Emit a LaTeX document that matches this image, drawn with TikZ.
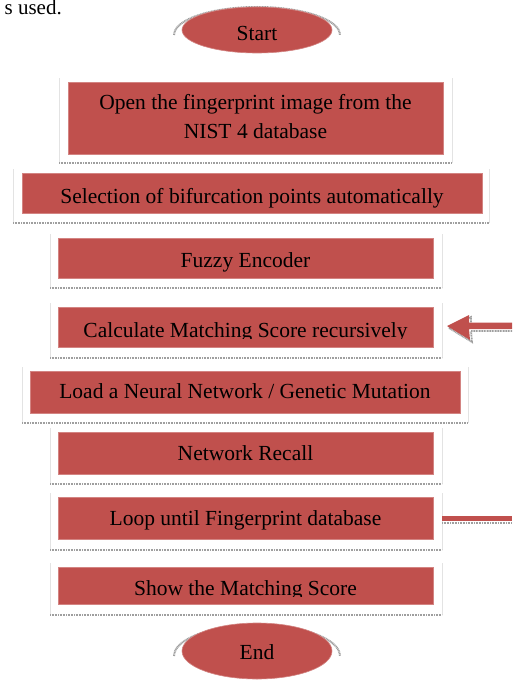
\documentclass[tikz,border=0pt]{standalone}
\usepackage{fontspec}
\setmainfont{Liberation Serif}
\usetikzlibrary{shapes.geometric}
\definecolor{boxred}{HTML}{C0504D}
\tikzset{
  redbox/.style={fill=boxred, draw=boxred!70!white, line width=0.6pt, inner sep=0pt},
  shadowline/.style={draw=gray!75, line width=2.6pt, dash pattern=on 1pt off 0.6pt},
  frameline/.style={draw=gray!22, line width=0.5pt},
  lbl/.style={font=\fontsize{21.5}{29}\selectfont, anchor=base, inner sep=0pt, text=black, align=center},
}
\begin{document}
\begin{tikzpicture}[x=1pt,y=-1pt]
\useasboundingbox (0,0) rectangle (512,687);
\clip (0,0) rectangle (512,687);

% text at top
\node[font=\fontsize{21}{25}\selectfont, anchor=base east, inner sep=0pt] (used) at (62,15) {s used.};

% frames with bottom shadow lines
\foreach \l/\r/\t/\s in {59/452/78/163, 13/489/169/223, 50/442/234/288, 50/442/303/358, 22/468/367/423, 50/442/428/484, 50/442/493/550, 50/442/563/615}{
  \draw[frameline] (\l,\t) -- (\l,\s) (\r,\t) -- (\r,\s);
  \draw[shadowline] (\l,\s) -- (\r,\s);
}

% Start ellipse
\fill[white] (257,35) ellipse [x radius=83, y radius=28];
\draw[shadowline, line width=2pt] (174,35) arc[start angle=180, end angle=360, x radius=83, y radius=28];
\node[redbox, ellipse, minimum width=150, minimum height=46] (start) at (257,30) {};
\node[lbl] (starttxt) at (257,41) {Start};

% End ellipse
\fill[white] (257,656) ellipse [x radius=83, y radius=31];
\draw[shadowline, line width=2pt] (174,656) arc[start angle=180, end angle=360, x radius=83, y radius=31];
\node[redbox, ellipse, minimum width=150, minimum height=56] (end) at (257,651) {};
\node[lbl] (endtxt) at (257,659) {End};

% boxes
\node[redbox, rectangle, minimum width=375, minimum height=72] (b1) at (255.5,118) {};
\node[lbl] (t1) at (255.5,139) {Open the fingerprint image from the\\NIST 4 database};

\node[redbox, rectangle, minimum width=460, minimum height=40] (b2) at (252,193) {};
\node[lbl] (t2) at (252,203) {Selection of bifurcation points automatically};

\node[redbox, rectangle, minimum width=375, minimum height=40] (b3) at (245.5,258) {};
\node[lbl] (t3) at (245.5,267) {Fuzzy Encoder};

\node[redbox, rectangle, minimum width=375, minimum height=40] (b4) at (245.5,327) {};
\begin{scope}
  \clip (58,300) rectangle (433,338);
  \node[lbl] (t4) at (245.5,337) {Calculate Matching Score recursively};
\end{scope}

\node[redbox, rectangle, minimum width=430, minimum height=42] (b5) at (245,392) {};
\node[lbl] (t5) at (245,398) {Load a Neural Network / Genetic Mutation};

\node[redbox, rectangle, minimum width=375, minimum height=42] (b6) at (245.5,453) {};
\node[lbl] (t6) at (245.5,460) {Network Recall};

\node[redbox, rectangle, minimum width=375, minimum height=42] (b7) at (245.5,518) {};
\node[lbl] (t7) at (245.5,525) {Loop until Fingerprint database};

\node[redbox, rectangle, minimum width=375, minimum height=37] (b8) at (245.5,585.5) {};
\begin{scope}
  \clip (58,560) rectangle (433,596);
  \node[lbl] (t8) at (245.5,595) {Show the Matching Score};
\end{scope}

% arrow at the right of box 4
\draw[shadowline, line width=1.8pt] (449,328) -- (471,317) -- (471,325) -- (512,325) (512,331) -- (471,331) -- (472,342) -- (449,328);
\fill[boxred] (447,326) -- (469,315) -- (469,322.5) -- (512,322.5) -- (512,329) -- (469,329) -- (470,340) -- cycle;

% loop line at the right of box 7
\fill[boxred] (442,516) rectangle (512,521);
\draw[shadowline] (442,523) -- (512,523);
\end{tikzpicture}
\end{document}
